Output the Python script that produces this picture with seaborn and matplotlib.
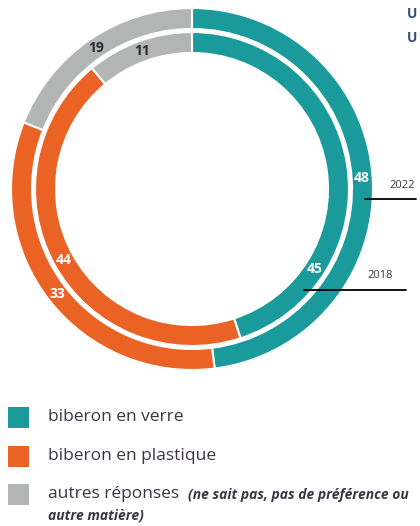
import numpy as np
import matplotlib.pyplot as plt
import seaborn as sns
from matplotlib.patches import Rectangle

# answers (%), outer ring = 2022, inner ring = 2018
categories = ["biberon en verre", "biberon en plastique", "autres réponses"]
values_2022 = [48, 33, 19]
values_2018 = [45, 44, 11]
years = ["2022", "2018"]
note = "(ne sait pas, pas de préférence ou\nautre matière)"

sns.set_theme(style="white")
plt.rcParams["font.family"] = ["Open Sans", "DejaVu Sans"]

colors = ["#1b9a9c", "#ea6325", "#b3b4b4"]
label_colors = ["white", "white", "#2a2a3a"]
txt = "#3b3445"

W, H = 420, 526
fig = plt.figure(figsize=(W / 100, H / 100), dpi=100)
ax = fig.add_axes([0, 0, 1, 1])

# work in pixel units, y measured from top
cx, cy = 192, H - 189
r_out, r_in, w = 181, 157, 21

wp = dict(width=w, edgecolor="white", linewidth=1.5)
w_out, _ = ax.pie(values_2022, colors=colors, startangle=90, counterclock=False,
                  radius=r_out, center=(cx, cy), wedgeprops=wp)
w_in, _ = ax.pie(values_2018, colors=colors, startangle=90, counterclock=False,
                 radius=r_in, center=(cx, cy), wedgeprops=wp)


def put_labels(wedges, vals, r, shift=None):
    shift = shift or {}
    for i, (wd, v) in enumerate(zip(wedges, vals)):
        ang = np.deg2rad((wd.theta1 + wd.theta2) / 2 + shift.get(i, 0))
        ax.text(cx + r * np.cos(ang), cy + r * np.sin(ang), str(v),
                ha="center", va="center", fontsize=10, fontweight="bold",
                color=label_colors[i])


put_labels(w_out, values_2022, r_out - w / 2)
put_labels(w_in, values_2018, r_in - w / 2, shift={0: -42})

# year markers
ax.plot([365, 416], [H - 199, H - 199], color="black", lw=1.3)
ax.text(389, H - 186, years[0], ha="left", va="center", fontsize=8, color=txt)
ax.plot([304, 406], [H - 290, H - 290], color="black", lw=1.3)
ax.text(367, H - 276, years[1], ha="left", va="center", fontsize=8, color=txt)

# cut-off header letters
ax.text(407, H - 14, "U", ha="left", va="center", fontsize=10,
        fontweight="bold", color="#34507a")
ax.text(407, H - 38, "U", ha="left", va="center", fontsize=10,
        fontweight="bold", color="#34507a")

# legend
rows = [417, 456, 494]
for c, lab, y in zip(colors, categories, rows):
    ax.add_patch(Rectangle((8, H - y - 11), 21, 21, color=c, lw=0))
    ax.text(48, H - y, lab, ha="left", va="center", fontsize=12.5, color=txt)
ax.text(188, H - 495, note.split("\n")[0], ha="left", va="center", fontsize=10,
        style="italic", fontweight="bold", color=txt)
ax.text(48, H - 516, note.split("\n")[1], ha="left", va="center", fontsize=10,
        style="italic", fontweight="bold", color=txt)

ax.set_xlim(0, W)
ax.set_ylim(0, H)
ax.set_aspect("auto")
ax.axis("off")

fig.savefig("out.png", dpi=100)
